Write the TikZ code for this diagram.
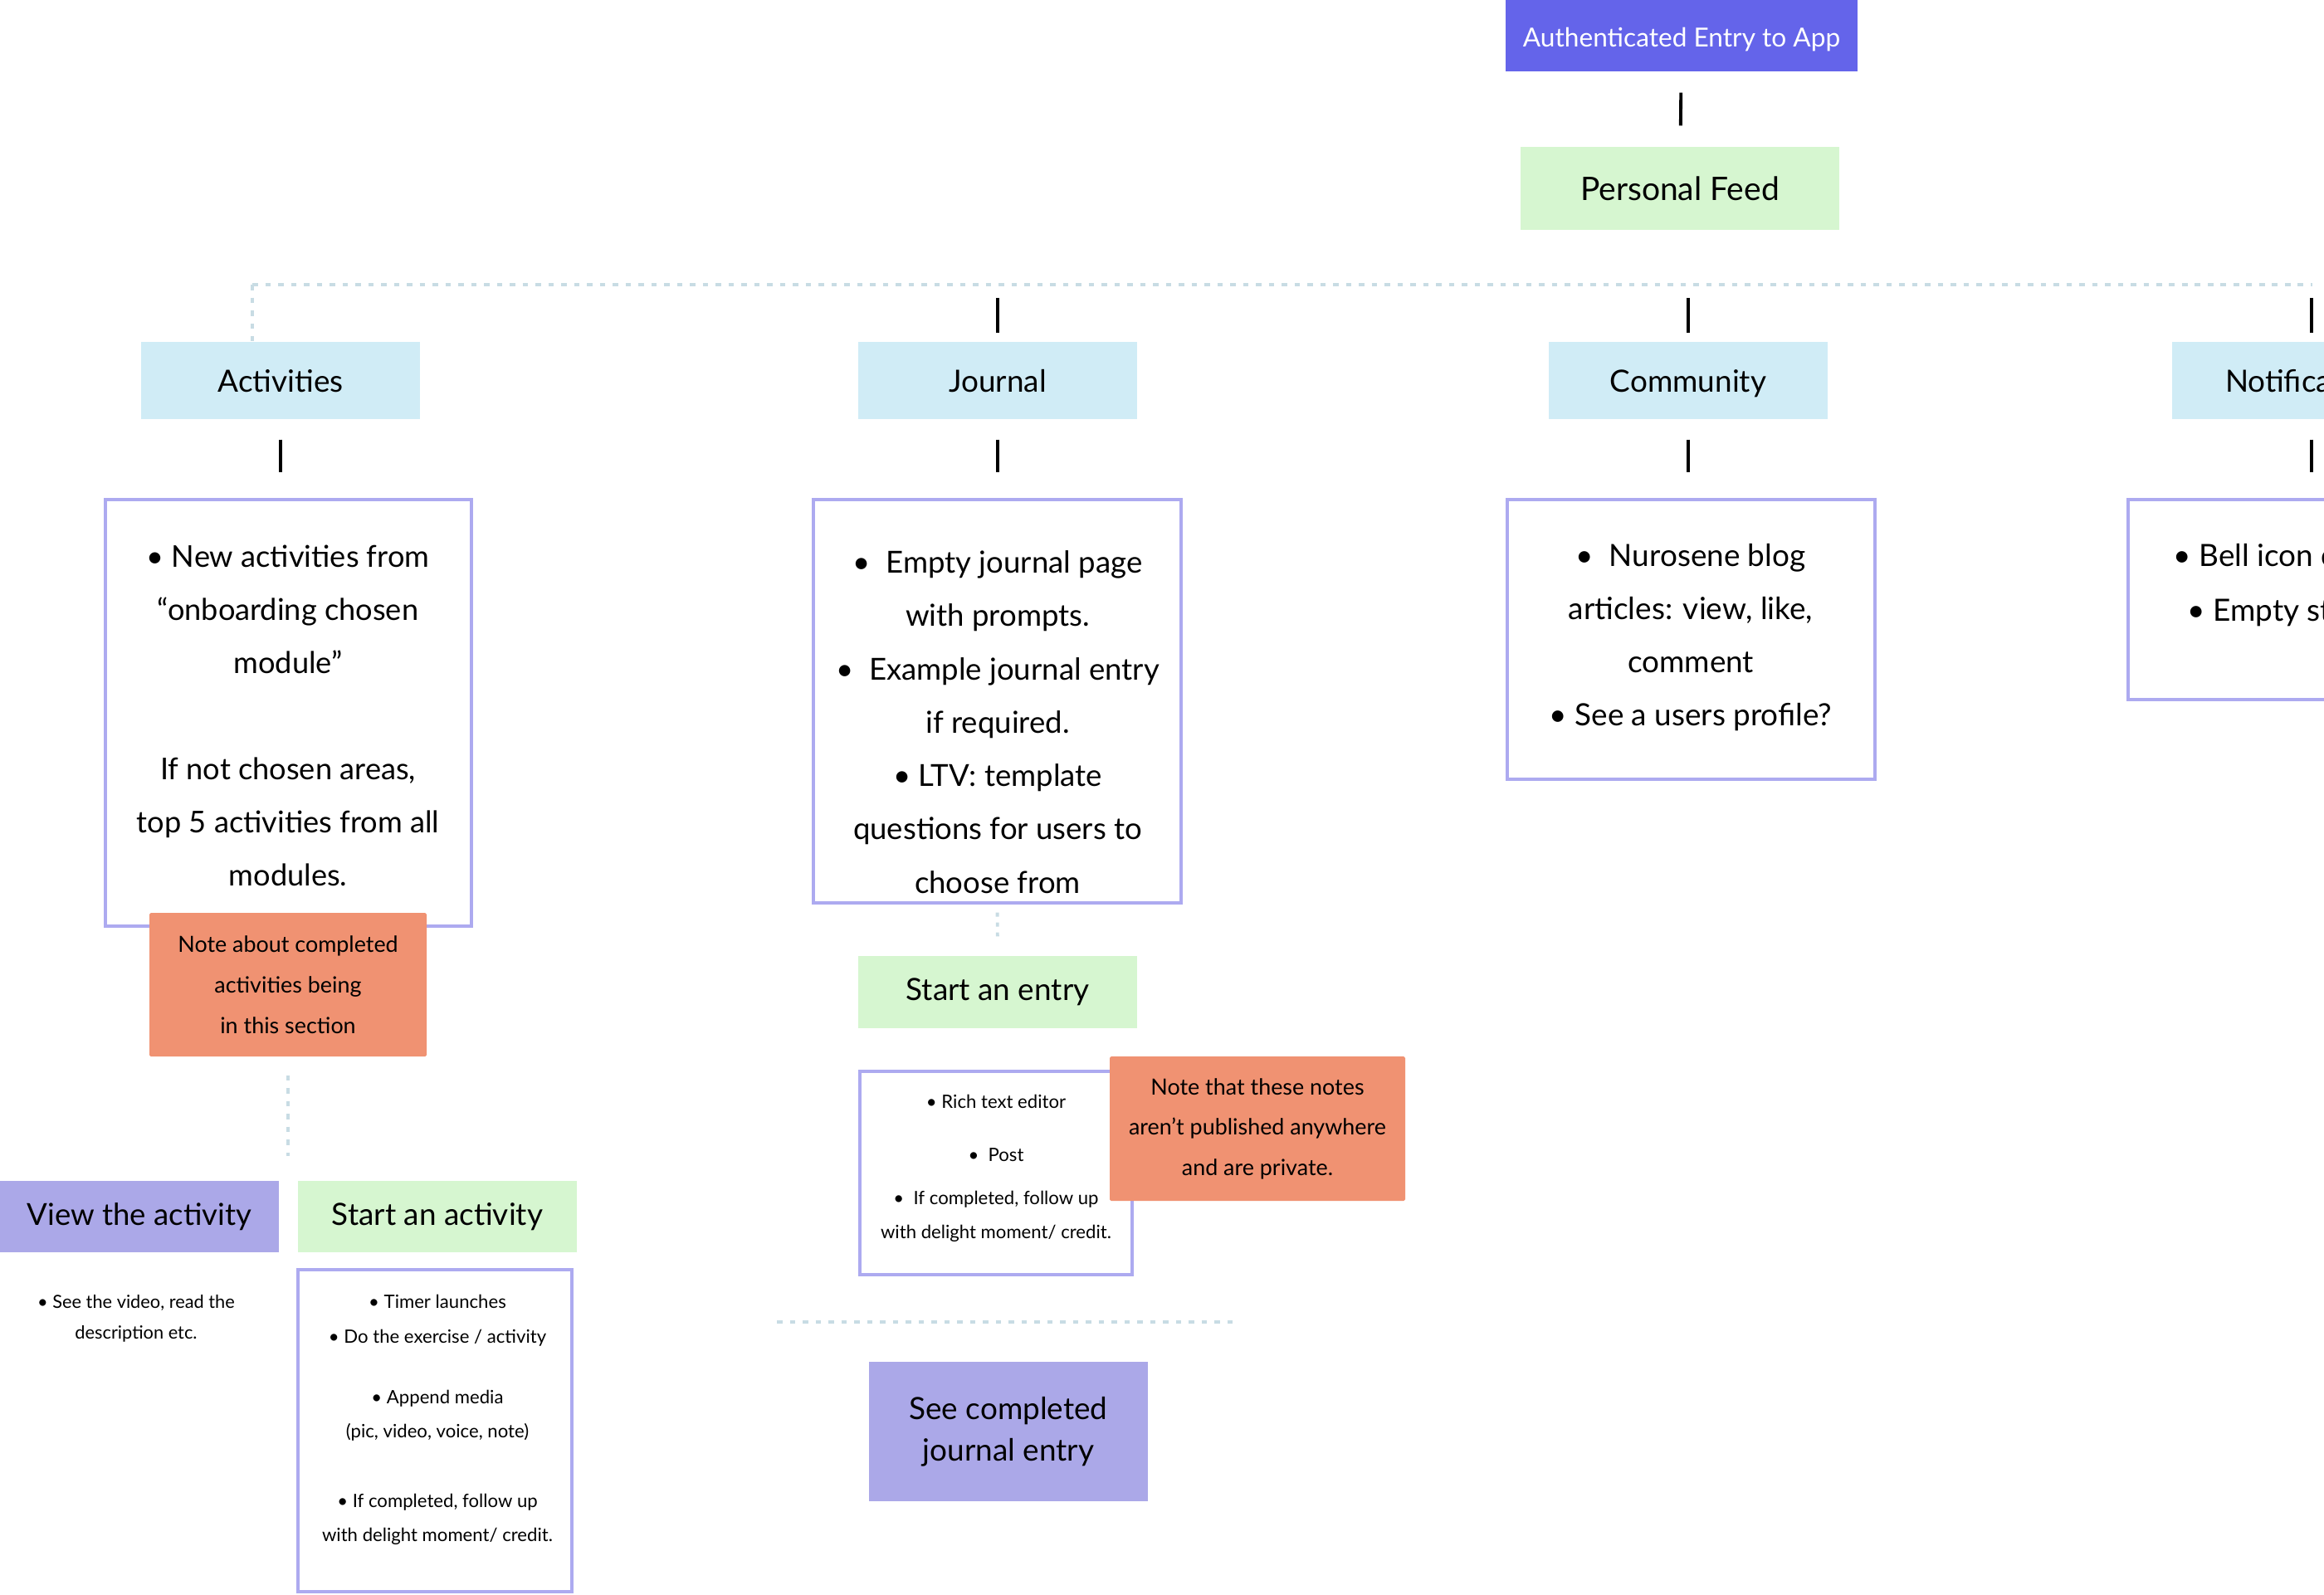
\documentclass[tikz,border=0pt]{standalone}
\usepackage{fontspec}
\setmainfont{Lato}
\definecolor{authblue}{HTML}{6464EA}
\definecolor{feedgreen}{HTML}{D6F6D0}
\definecolor{catblue}{HTML}{D0ECF6}
\definecolor{lavfill}{HTML}{ABA8E8}
\definecolor{lavline}{HTML}{ADAAF0}
\definecolor{salmon}{HTML}{F09272}
\definecolor{busgrey}{HTML}{C8DCE4}

\begin{document}
\begin{tikzpicture}[
    box/.style={minimum width=3.36cm, minimum height=0.93cm, inner sep=0pt, align=center},
    cat/.style={box, fill=catblue, text height=10.6pt, text depth=2.4pt, font=\fontsize{10.5}{12}\selectfont},
    greenbox/.style={box, fill=feedgreen, font=\fontsize{10.5}{12}\selectfont},
    lavbox/.style={box, fill=lavfill, font=\fontsize{10.4}{12}\selectfont},
    contentbox/.style={draw=lavline, line width=0.9pt, inner sep=0pt},
    bodytext/.style={inner sep=0pt, align=center},
    note/.style={box, fill=salmon, rounded corners=0.5pt},
    link/.style={line width=1.1pt},
    busline/.style={busgrey, line width=1.1pt, dash pattern=on 0.065cm off 0.09cm},
    dotline/.style={busgrey, line width=1.1pt, dash pattern=on 0.05cm off 0.07cm}
]
\useasboundingbox (0,0) rectangle (28,-19.21);
\clip (0,0) rectangle (28,-19.21);

% top of the tree
\node[box, fill=authblue, text=white, minimum width=4.24cm, minimum height=0.86cm,
      text height=9.3pt, text depth=1.8pt, font=\fontsize{9}{10}\selectfont] (auth) at (20.26,-0.43) {Authenticated Entry to App};
\node[greenbox, minimum width=3.84cm, minimum height=1.0cm,
      font=\fontsize{11.1}{12}\selectfont] (feed) at (20.24,-2.27) {Personal Feed};
\draw[link, shorten <=0.25cm, shorten >=0.25cm] (auth) -- (feed);

% the sections
\coordinate (busL) at (3.04,-3.43);
\coordinate (busR) at (27.86,-3.43);
\draw[busline] (busL) -- (busR);

\foreach \nm/\x/\txt in {acts/3.38/Activities, jour/12.02/Journal, comm/20.34/Community, notif/27.85/Notifications} {
    \node[cat] (\nm) at (\x,-4.585) {\txt};
}
\draw[busline] (busL) -- (busL |- acts.north);
\foreach \nm in {jour,comm,notif} {
    \draw[link, shorten <=0.16cm, shorten >=0.10cm] (\nm.north |- busL) -- (\nm.north);
}

% content of each section
\node[contentbox, minimum width=4.41cm, minimum height=5.14cm] (abox) at (3.475,-8.59) {};
\node[contentbox, minimum width=4.43cm, minimum height=4.86cm] (jbox) at (12.015,-8.45) {};
\node[contentbox, minimum width=4.43cm, minimum height=3.37cm] (cbox) at (20.375,-7.705) {};
\node[contentbox, minimum width=4.43cm, minimum height=2.41cm] (nbox) at (27.855,-7.225) {};
\foreach \nm/\bx in {acts/abox, jour/jbox, comm/cbox, notif/nbox} {
    \draw[link, shorten <=0.24cm, shorten >=0.31cm] (\nm.south) -- (\nm.south |- \bx.north);
}

\node[bodytext, font=\fontsize{10.3}{18.2}\selectfont] (atxt) at (3.47,-8.62)
    {• New activities from\\“onboarding chosen\\module”\\[18.2pt]If not chosen areas,\\top 5 activities from all\\modules.};
\node[bodytext, font=\fontsize{10.4}{18.3}\selectfont] (jtxt) at (12.02,-8.70)
    {•\ \ Empty journal page\\with prompts.\\•\ \ Example journal entry\\if required.\\• LTV: template\\questions for users to\\choose from};
\node[bodytext, font=\fontsize{10.5}{18.2}\selectfont] (ctxt) at (20.37,-7.68)
    {•\ \ Nurosene blog\\articles: view, like,\\comment\\• See a users profile?};
\node[bodytext, anchor=base west, font=\fontsize{10.5}{18.2}\selectfont] (ntxta) at (26.18,-6.82) {• Bell icon c};
\node[bodytext, anchor=base west, font=\fontsize{10.5}{18.2}\selectfont] (ntxtb) at (26.35,-7.48) {• Empty st};

% activities branch
\node[note, minimum width=3.34cm, minimum height=1.73cm, font=\fontsize{7.65}{13.9}\selectfont]
    (anote) at (3.47,-11.865) {Note about completed\\activities being\\in this section};
\coordinate (asplit) at (3.47,-13.93);
\draw[busline, shorten <=0.22cm] (anote.south) -- (asplit);

\node[lavbox, minimum height=0.86cm] (viewact) at (1.68,-14.66) {View the activity};
\node[greenbox, minimum height=0.86cm] (startact) at (5.27,-14.66) {Start an activity};
\node[bodytext, font=\fontsize{6.2}{10.5}\selectfont] (viewtxt) at (1.64,-15.89)
    {• See the video, read the\\description etc.};
\node[contentbox, minimum width=3.30cm, minimum height=3.88cm] (sabox) at (5.24,-17.24) {};
\node[bodytext, font=\fontsize{6.3}{11.7}\selectfont] (satxt) at (5.27,-17.11)
    {• Timer launches\\• Do the exercise / activity\\[9.1pt]• Append media\\(pic, video, voice, note)\\[12.2pt]• If completed, follow up\\with delight moment/ credit.};

% journal branch
\node[greenbox, minimum height=0.87cm] (startentry) at (12.02,-11.955) {Start an entry};
\draw[dotline, shorten <=0.10cm, shorten >=0.23cm] (jbox.south) -- (startentry.north);
\node[contentbox, minimum width=3.28cm, minimum height=2.45cm] (ebox) at (12.00,-14.135) {};
\node[bodytext, font=\fontsize{6.3}{11.7}\selectfont] (etxt) at (12.00,-14.08)
    {• Rich text editor\\[6.3pt]•\ \ Post\\[3.1pt]•\ \ If completed, follow up\\with delight moment/ credit.};
\node[note, minimum width=3.56cm, minimum height=1.74cm, font=\fontsize{7.65}{13.8}\selectfont]
    (enote) at (15.15,-13.60) {Note that these notes\\aren’t published anywhere\\and are private.};

\coordinate (sepL) at (9.36,-15.93);
\coordinate (sepR) at (14.93,-15.93);
\draw[busline] (sepL) -- (sepR);

\node[lavbox, minimum height=1.68cm, font=\fontsize{10.5}{14.2}\selectfont] (seejour) at (12.15,-17.25)
    {See completed\\journal entry};
\end{tikzpicture}
\end{document}
